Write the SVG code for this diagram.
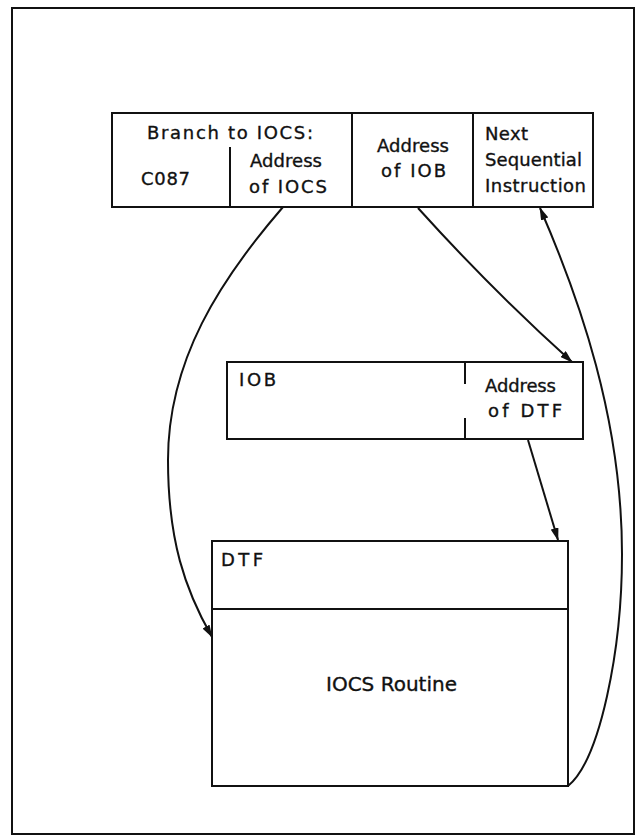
<svg xmlns="http://www.w3.org/2000/svg" width="639" height="837" viewBox="0 0 639 837">
<style>
  .box { fill: none; stroke: #111; stroke-width: 2; }
  .ln { fill: none; stroke: #111; stroke-width: 2; }
  .conn { fill: none; stroke: #111; stroke-width: 2; }
  .t { font-family: "DejaVu Sans", "Liberation Sans", sans-serif; font-size: 18px; fill: #111; stroke: #111; stroke-width: 0.35; }
  .big { font-size: 20px; }
</style>
<defs>
  <marker id="ah" viewBox="0 0 13 8" markerWidth="13" markerHeight="8" refX="12" refY="4" orient="auto" markerUnits="userSpaceOnUse">
    <path d="M0,0 L13,4 L0,8 z" fill="#111"/>
  </marker>
</defs>
<rect width="639" height="837" fill="#fff"/>
<g id="frame">
  <rect class="box" x="12" y="8" width="622" height="826"/>
</g>
<g id="instr-branch">
  <rect class="box" x="112" y="113" width="240" height="94"/>
  <line class="ln" x1="230" y1="147" x2="230" y2="207"/>
  <text class="t" x="147" y="139" textLength="166" lengthAdjust="spacing">Branch to IOCS:</text>
  <text class="t" x="141" y="185" textLength="49" lengthAdjust="spacing">C087</text>
  <text class="t" x="250" y="167" textLength="72" lengthAdjust="spacing">Address</text>
  <text class="t" x="249" y="193" textLength="78" lengthAdjust="spacing">of IOCS</text>
</g>
<g id="instr-iob-addr">
  <rect class="box" x="352" y="113" width="121" height="94"/>
  <text class="t" x="377" y="152" textLength="72" lengthAdjust="spacing">Address</text>
  <text class="t" x="381" y="177" textLength="65" lengthAdjust="spacing">of IOB</text>
</g>
<g id="instr-next">
  <rect class="box" x="473" y="113" width="120" height="94"/>
  <text class="t" x="485" y="140" textLength="43" lengthAdjust="spacing">Next</text>
  <text class="t" x="485" y="166" textLength="97" lengthAdjust="spacing">Sequential</text>
  <text class="t" x="485" y="192" textLength="101" lengthAdjust="spacing">Instruction</text>
</g>
<g id="iob">
  <rect class="box" x="227" y="362" width="356" height="77"/>
  <line class="ln" x1="465" y1="362" x2="465" y2="384"/>
  <line class="ln" x1="465" y1="418" x2="465" y2="439"/>
  <text class="t" x="239" y="386" textLength="37" lengthAdjust="spacing">IOB</text>
  <text class="t" x="485" y="392" textLength="71" lengthAdjust="spacing">Address</text>
  <text class="t" x="488" y="417" textLength="74" lengthAdjust="spacing">of DTF</text>
</g>
<g id="dtf">
  <rect class="box" x="212" y="541" width="356" height="68"/>
  <text class="t" x="221" y="566" textLength="42" lengthAdjust="spacing">DTF</text>
</g>
<g id="iocs-routine">
  <rect class="box" x="212" y="609" width="356" height="177"/>
  <text class="t big" x="326" y="691" textLength="131" lengthAdjust="spacing">IOCS Routine</text>
</g>
<g id="connectors">
  <path class="conn" d="M283,207 C220,280 168,360 168,460 C168,540 185,590 212,637" marker-end="url(#ah)"/>
  <path class="conn" d="M418,208 Q492,290 572,362" marker-end="url(#ah)"/>
  <path class="conn" d="M528,440 L558,540" marker-end="url(#ah)"/>
  <path class="conn" d="M568,786 C600,760 622,650 622,554 C622,420 580,300 540,208" marker-end="url(#ah)"/>
</g>
</svg>
